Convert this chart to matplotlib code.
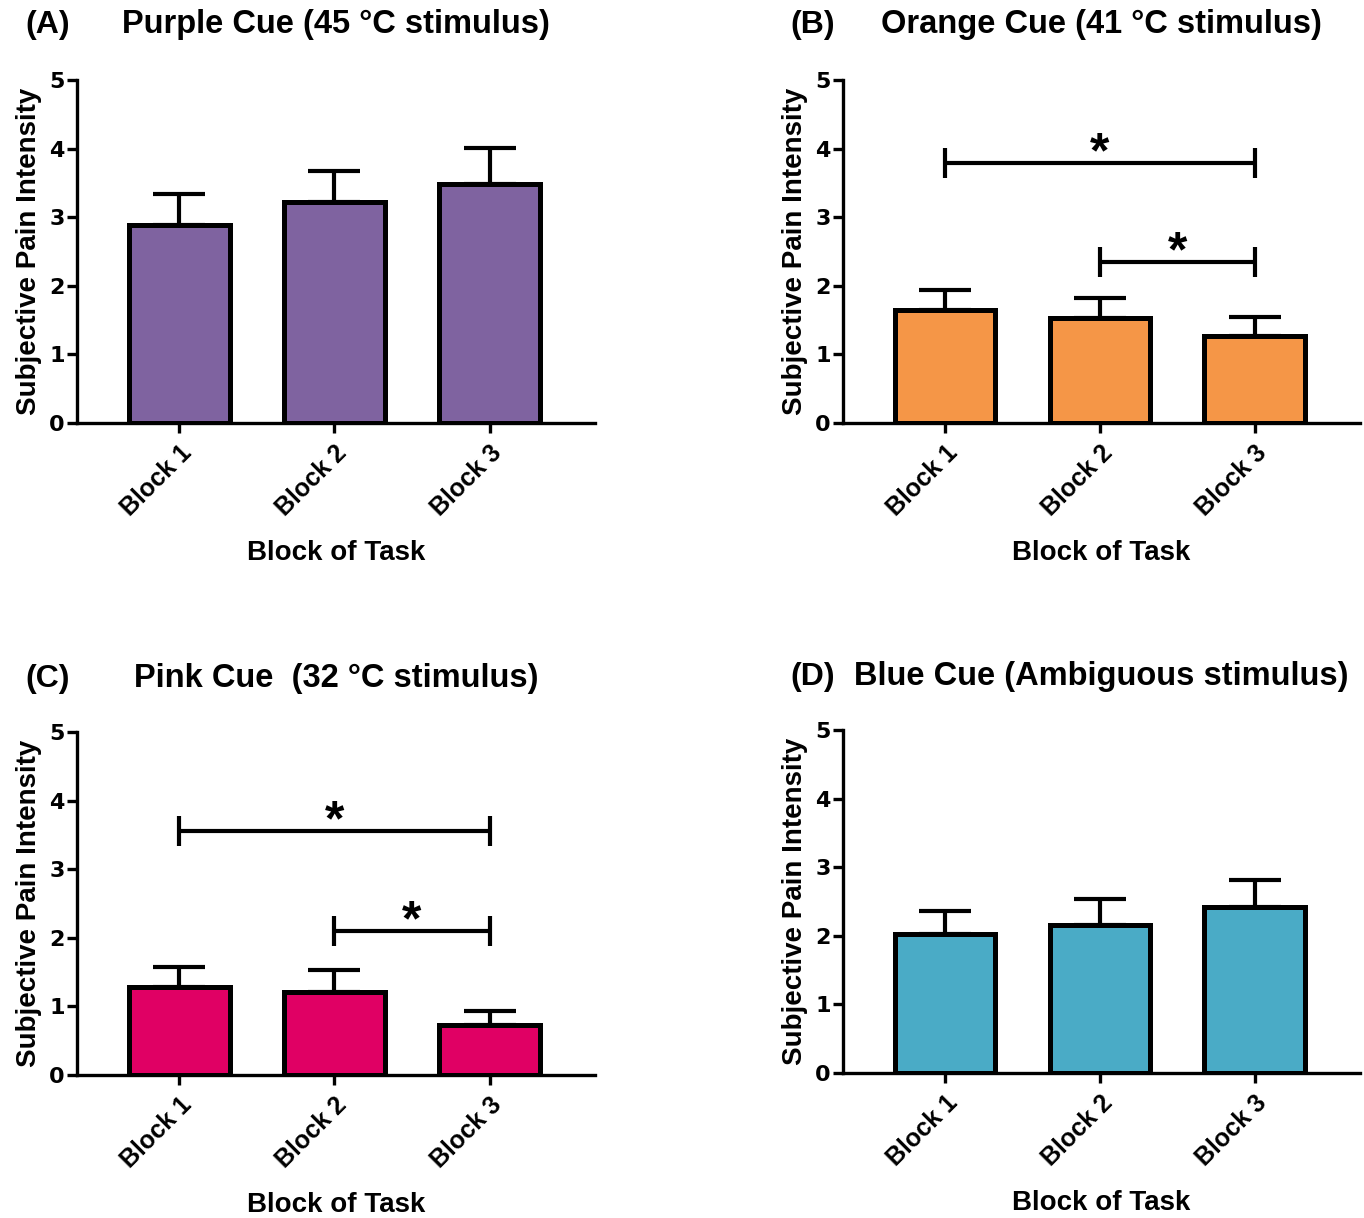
import matplotlib
matplotlib.use("Agg")
import matplotlib.pyplot as plt

plt.rcParams['font.family'] = ['Liberation Sans', 'DejaVu Sans']
plt.rcParams['font.weight'] = 'bold'

categories = ["Block 1", "Block 2", "Block 3"]

purple_means = [2.89, 3.22, 3.48]
purple_sem = [0.45, 0.45, 0.53]
orange_means = [1.65, 1.53, 1.27]
orange_sem = [0.29, 0.29, 0.28]
pink_means = [1.28, 1.21, 0.73]
pink_sem = [0.29, 0.32, 0.20]
blue_means = [2.03, 2.16, 2.42]
blue_sem = [0.33, 0.38, 0.39]

orange_sig = [(0, 2, 3.79), (1, 2, 2.35)]
pink_sig = [(0, 2, 3.56), (1, 2, 2.10)]

panels = [
    ("(A)", "Purple Cue (45 \u00b0C stimulus)", purple_means, purple_sem, "#7F63A0", []),
    ("(B)", "Orange Cue (41 \u00b0C stimulus)", orange_means, orange_sem, "#F59647", orange_sig),
    ("(C)", "Pink Cue  (32 \u00b0C stimulus)", pink_means, pink_sem, "#E00064", pink_sig),
    ("(D)", "Blue Cue (Ambiguous stimulus)", blue_means, blue_sem, "#4AABC6", []),
]

W, H = 1364, 1218
fig = plt.figure(figsize=(W / 100, H / 100), dpi=100)

# axes boxes in pixels: left, top, right, bottom
boxes = [(77, 80, 595, 423), (843, 80, 1360, 423),
         (77, 732, 595, 1075), (843, 730, 1360, 1073)]
label_x = [25, 790, 25, 790]
title_y = [25, 25, 679, 677]

for (lab, title, means, sem, color, sig), (l, t, r, b), lx, ty in zip(panels, boxes, label_x, title_y):
    ax = fig.add_axes([l / W, 1 - b / H, (r - l) / W, (b - t) / H])
    x = list(range(len(categories)))
    ax.bar(x, means, width=0.65, color=color, edgecolor="black", linewidth=3.6, zorder=2)
    ax.errorbar(x, means, yerr=[[0] * len(sem), sem], fmt="none", ecolor="black",
                elinewidth=3, capsize=19, capthick=3, zorder=1)
    for x1, x2, y in sig:
        ax.plot([x1, x2], [y, y], color="black", lw=3, solid_capstyle="butt")
        for xx in (x1, x2):
            ax.plot([xx, xx], [y - 0.22, y + 0.22], color="black", lw=3, solid_capstyle="butt")
        ax.text((x1 + x2) / 2, y - 0.06, "*", ha="center", va="baseline", fontsize=36, fontweight="bold")
    ax.set_ylim(0, 5)
    ax.set_xlim(-0.66, 2.68)
    ax.set_yticks([0, 1, 2, 3, 4, 5])
    ax.set_xticks(x)
    ax.set_xticklabels(categories, rotation=45, ha="right", va="top", rotation_mode="anchor",
                       fontsize=18, fontweight="bold")
    for tl in ax.get_yticklabels():
        tl.set_fontsize(16)
        tl.set_fontweight("bold")
        tl.set_family(["DejaVu Sans"])
    ax.spines["top"].set_visible(False)
    ax.spines["right"].set_visible(False)
    ax.spines["left"].set_linewidth(2.4)
    ax.spines["bottom"].set_linewidth(2.4)
    ax.tick_params(axis="both", width=2.4, length=7, direction="out")
    ax.tick_params(axis="x", pad=6)
    ax.tick_params(axis="y", pad=2)
    ax.set_ylabel("Subjective Pain Intensity", fontsize=20, fontweight="bold", labelpad=5)
    ax.set_xlabel("Block of Task", fontsize=20, fontweight="bold", labelpad=14)
    fig.text(lx / W, 1 - ty / H, lab, ha="left", va="center", fontsize=23, fontweight="bold")
    fig.text(((l + r) / 2) / W, 1 - ty / H, title, ha="center", va="center", fontsize=23.5, fontweight="bold")

fig.savefig("out.png", dpi=100)
